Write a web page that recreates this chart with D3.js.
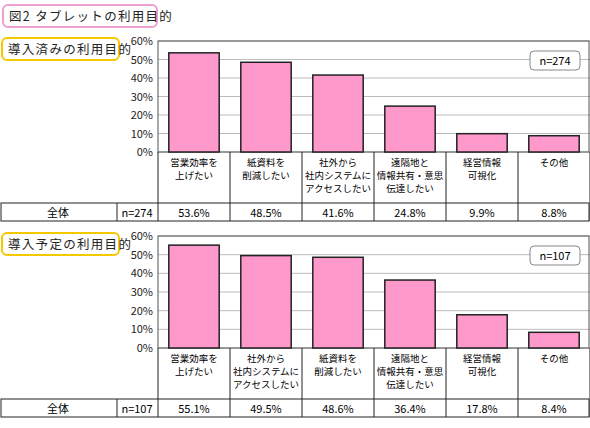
<!DOCTYPE html><html><head><meta charset="utf-8"><script src="https://cdn.jsdelivr.net/npm/d3@7"></script>
<style>body{margin:0;background:#fff}text{font-family:"Noto Sans CJK JP",sans-serif}</style></head><body><svg width="590" height="428"></svg>
<script>
const cats1=["営業効率を\n上げたい","紙資料を\n削減したい","社外から\n社内システムに\nアクセスしたい","遠隔地と\n情報共有・意思\n伝達したい","経営情報\n可視化","その他"];
const vals1=[53.6,48.5,41.6,24.8,9.9,8.8];
const cats2=["営業効率を\n上げたい","社外から\n社内システムに\nアクセスしたい","紙資料を\n削減したい","遠隔地と\n情報共有・意思\n伝達したい","経営情報\n可視化","その他"];
const vals2=[55.1,49.5,48.6,36.4,17.8,8.4];
const ticks=[0,10,20,30,40,50,60];
const svg=d3.select("svg");
const X0=158,X1=590;
function box(x,y,w,h,col,t){svg.append("rect").attr("x",x).attr("y",y).attr("width",w).attr("height",h).attr("rx",5).attr("fill","#fff").attr("stroke",col).attr("stroke-width",2);
svg.append("text").attr("x",x+6).attr("y",y+h/2+5).attr("font-size",12.5).attr("letter-spacing",1.3).attr("fill","#222").text(t);}
box(3,5,154,22,"#f0a0d0","図2 タブレットの利用目的");
function panel(top,bot,cats,vals,n,title){
 box(2,top-3,117,22,"#f5c800",title);
 const y=d3.scaleLinear().domain([0,60]).range([bot,top]);
 const x=d3.scaleBand().domain(d3.range(6)).range([X0,X1]).paddingInner(0.3).paddingOuter(0.15);
 const xc=d3.scaleBand().domain(d3.range(6)).range([X0,X1]);
 const g=svg.append("g");
 ticks.forEach(t=>{g.append("line").attr("x1",X0).attr("x2",X1).attr("y1",y(t)).attr("y2",y(t)).attr("stroke","#bbb");
  g.append("text").attr("x",X0-5).attr("y",y(t)+4).attr("text-anchor","end").attr("font-size",11).attr("fill","#222").text(t+"%");});
 g.append("rect").attr("x",X0).attr("y",top).attr("width",X1-X0-1).attr("height",bot-top).attr("fill","none").attr("stroke","#555");
 g.selectAll(".b").data(vals).join("rect").attr("x",(d,i)=>x(i)).attr("width",x.bandwidth()).attr("y",d=>y(d)).attr("height",d=>bot-y(d)).attr("fill","#ff99cc").attr("stroke","#222").attr("stroke-width",1.5);
 g.append("rect").attr("x",530).attr("y",top+10).attr("width",50).attr("height",19).attr("rx",4).attr("fill","#fff").attr("stroke","#888");
 g.append("text").attr("x",555).attr("y",top+24).attr("text-anchor","middle").attr("font-size",11).text("n="+n);
 const lb=bot+51, tb=lb+18;
 g.append("line").attr("x1",X0).attr("x2",X0).attr("y1",bot).attr("y2",tb).attr("stroke","#222");
 cats.forEach((c,i)=>{
  g.append("line").attr("x1",xc(i)+xc.bandwidth()).attr("x2",xc(i)+xc.bandwidth()).attr("y1",bot).attr("y2",tb).attr("stroke","#222");
  c.split("\n").forEach((l,j)=>g.append("text").attr("x",xc(i)+xc.bandwidth()/2).attr("y",bot+14+j*13).attr("text-anchor","middle").attr("font-size",9.5).text(l));
  g.append("text").attr("x",xc(i)+xc.bandwidth()/2).attr("y",lb+14).attr("text-anchor","middle").attr("font-size",11).text(vals[i].toFixed(1)+"%");
 });
 g.append("rect").attr("x",1).attr("y",lb).attr("width",588).attr("height",18).attr("fill","none").attr("stroke","#222");
 g.append("line").attr("x1",117).attr("x2",117).attr("y1",lb).attr("y2",tb).attr("stroke","#222");
 g.append("text").attr("x",58).attr("y",lb+14).attr("text-anchor","middle").attr("font-size",11).text("全体");
 g.append("text").attr("x",137).attr("y",lb+14).attr("text-anchor","middle").attr("font-size",11).text("n="+n);
}
panel(41,152,cats1,vals1,274,"導入済みの利用目的");
panel(236,348,cats2,vals2,107,"導入予定の利用目的");
</script></body></html>
